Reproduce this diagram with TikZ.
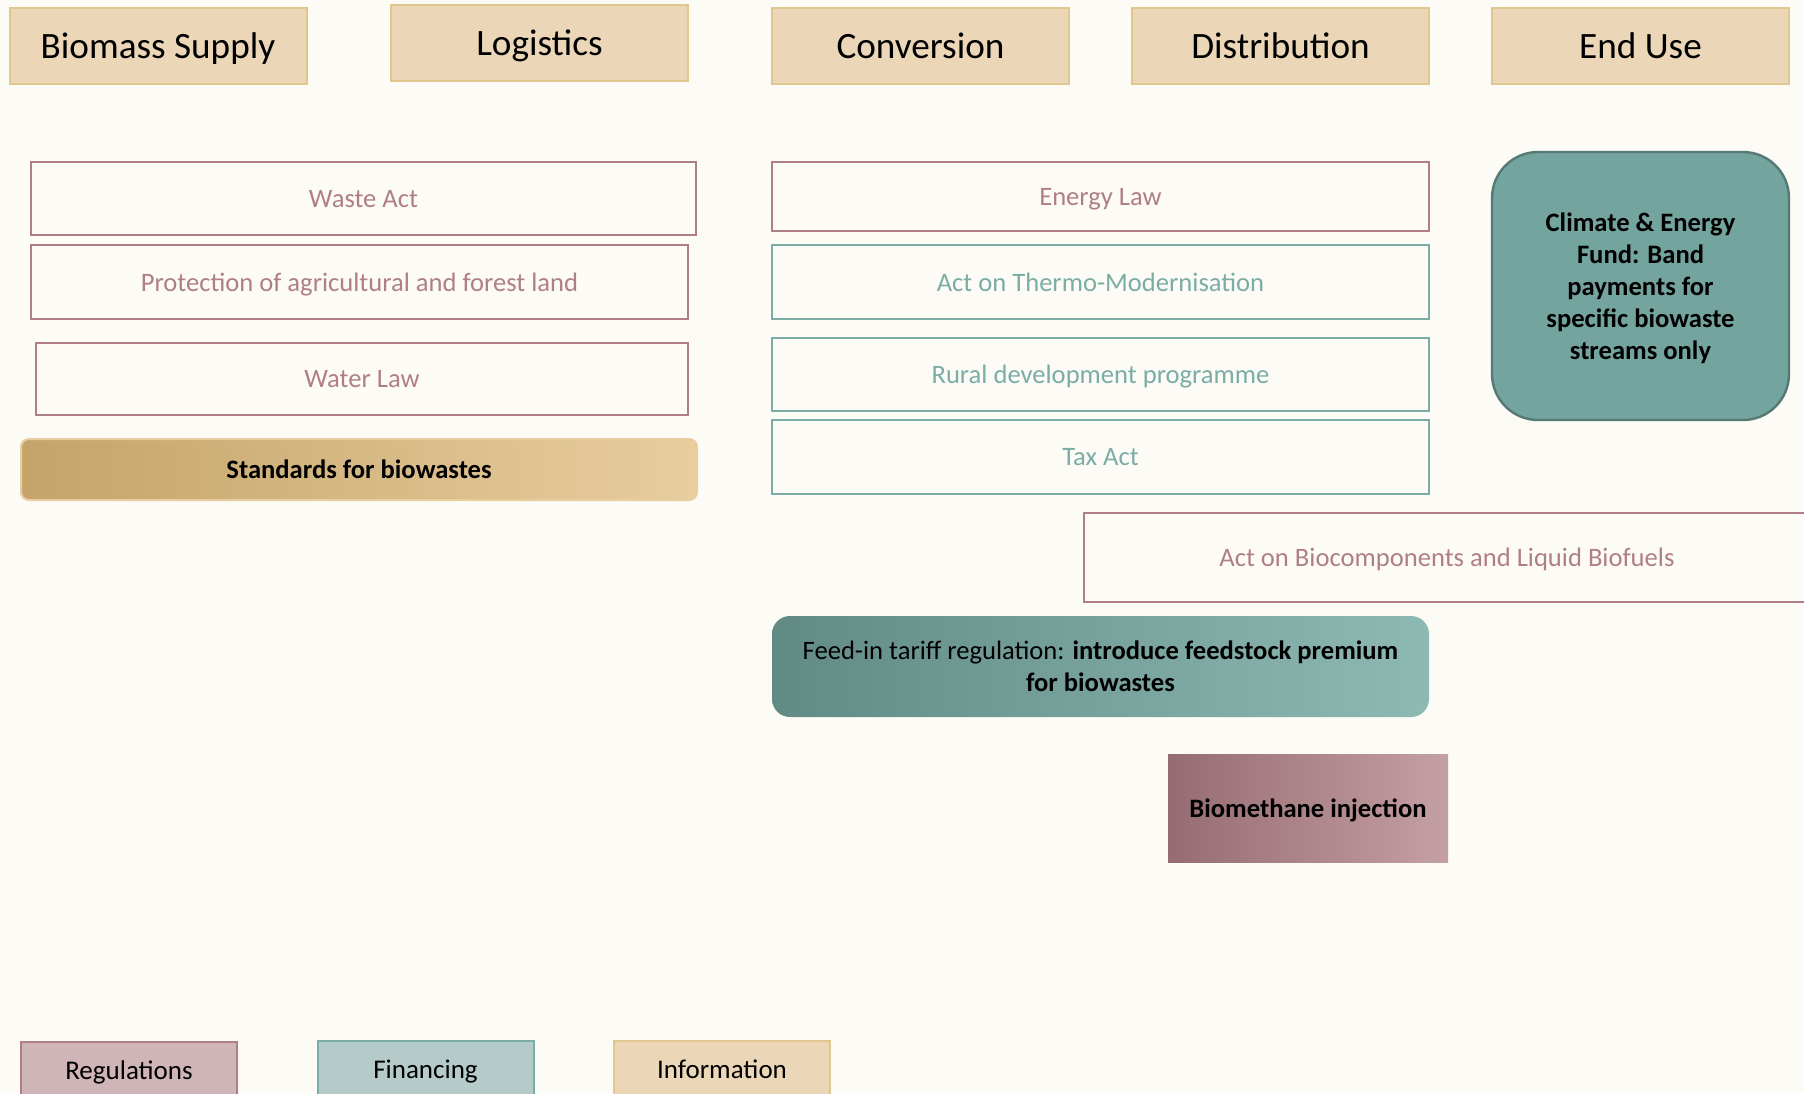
\documentclass[tikz,border=0pt]{standalone}
\usepackage{fontspec}
\setmainfont{Carlito}
\usepackage{xcolor}
\usetikzlibrary{positioning}

\definecolor{bgcream}{HTML}{FDFBF6}
\definecolor{hdrfill}{HTML}{EBD7B8}
\definecolor{hdrline}{HTML}{E2C68F}
\definecolor{regline}{HTML}{B07F86}
\definecolor{regfill}{HTML}{CFB5B8}
\definecolor{finline}{HTML}{7AADA6}
\definecolor{finfill}{HTML}{B4CBC9}
\definecolor{stddark}{HTML}{C4A46A}
\definecolor{stdlight}{HTML}{E8CD9E}

\begin{document}
\begin{tikzpicture}[
  x=0.5pt, y=-0.5pt,
  every node/.style={text depth=0pt},
  hdr/.style={draw=hdrline, line width=1pt, fill=hdrfill, minimum width=148.5pt, minimum height=38pt, font=\fontsize{18.6}{22}\selectfont},
  reg/.style={draw=regline, line width=0.8pt, text=regline, font=\fontsize{13.3}{16}\selectfont},
  fin/.style={draw=finline, line width=0.8pt, text=finline, font=\fontsize{13.3}{16}\selectfont},
  legend/.style={line width=1pt, minimum width=108pt, minimum height=28pt, font=\fontsize{13.5}{16}\selectfont}
]
\fill[bgcream] (0,0) rectangle (1804,1093);
\useasboundingbox (0,0) rectangle (1804,1093);

% chain stages
\node[hdr] (supply) at (158,46) {Biomass Supply};
\node[hdr] (logist) at (539.5,43) {Logistics};
\node[hdr] (convers) at (920.5,46) {Conversion};
\node[hdr] (distrib) at (1280.5,46) {Distribution};
\node[hdr] (enduse) at (1640.5,46) {End Use};

% left column
\node[reg, minimum width=332.5pt, minimum height=36.5pt] (waste) at (363.5,198.5) {Waste Act};
\node[reg, minimum width=328.5pt, minimum height=37pt] (landprot) at (359.5,282) {Protection of agricultural and forest land};
\node[reg, minimum width=326pt, minimum height=36pt] (water) at (362,379) {Water Law};
\node[draw=stdlight, line width=1pt, rounded corners=4pt, left color=stddark, right color=stdlight,
  minimum width=338pt, minimum height=30.5pt, font=\fontsize{13.3}{16}\selectfont\bfseries] (standards) at (359,469.5) {Standards for biowastes};

% middle column
\node[reg, minimum width=328.5pt, minimum height=34.5pt] (energy) at (1100.5,196.5) {Energy Law};
\node[fin, minimum width=328.5pt, minimum height=37pt] (thermo) at (1100.5,282) {Act on Thermo-Modernisation};
\node[fin, minimum width=328.5pt, minimum height=36.5pt] (rural) at (1100.5,374.5) {Rural development programme};
\node[fin, minimum width=328.5pt, minimum height=37pt] (tax) at (1100.5,457) {Tax Act};
\node[reg, minimum width=363pt, minimum height=44.5pt] (biofuels) at (1447,557.5) {Act on Biocomponents and Liquid Biofuels};
\node[rounded corners=9pt, left color=finline!80!black, right color=finline!85!white, align=center,
  minimum width=328.5pt, minimum height=50.5pt, font=\fontsize{13.3}{16}\selectfont] (feedin) at (1100.5,666.5)
  {Feed-in tariff regulation: \textbf{introduce feedstock premium}\\\textbf{for biowastes}};
\node[left color=regline!85!black, right color=regline!75!white, minimum width=140pt, minimum height=54pt,
  font=\fontsize{13.3}{16}\selectfont\bfseries] (biomethane) at (1308,808) {Biomethane injection};

% right column
\node[draw=finline!70!black, line width=1.2pt, fill=finline!95!black, rounded corners=23pt, align=center,
  minimum width=148.5pt, minimum height=134pt, font=\fontsize{13.3}{16}\selectfont\bfseries] (climate) at (1640.5,286)
  {Climate \& Energy\\Fund: Band\\payments for\\specific biowaste\\streams only};

% legend
\node[legend, draw=regline, fill=regfill] (legreg) at (129,1070) {Regulations};
\node[legend, draw=finline, fill=finfill] (legfin) at (425.5,1069) {Financing};
\node[legend, draw=hdrline, fill=hdrfill] (leginfo) at (722,1069) {Information};
\end{tikzpicture}
\end{document}
